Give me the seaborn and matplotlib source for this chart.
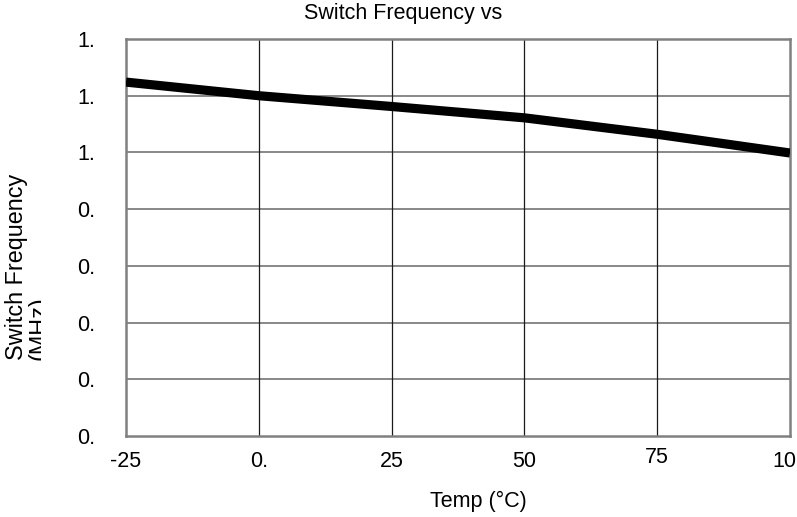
import matplotlib
matplotlib.use("Agg")
import matplotlib.pyplot as plt
from matplotlib.transforms import ScaledTranslation
from matplotlib.patches import Rectangle
import seaborn as sns
import pandas as pd

# Data
temps = [-25, 0, 25, 50, 75, 100]
freq = [1.124, 1.100, 1.081, 1.061, 1.032, 0.999]

x_ticks = [-25, 0, 25, 50, 75, 100]
x_tick_labels = ["-25", "0.", "25", "50", "75", "10"]
y_ticks = [0.5, 0.6, 0.7, 0.8, 0.9, 1.0, 1.1, 1.2]
y_tick_labels = ["0.", "0.", "0.", "0.", "0.", "1.", "1.", "1."]

title_text = "Switch Frequency vs"
xlabel_text = "Temp (°C)"
ylabel_text = "Switch Frequency\n(MHz)"

sns.set_theme(style="white")
plt.rcParams["font.family"] = ["Liberation Sans", "DejaVu Sans"]

FS = 15.5
W, H = 797, 517
fig = plt.figure(figsize=(W / 100, H / 100), dpi=100)
ax = fig.add_axes([126 / W, 1 - 436 / H, (790 - 126) / W, (436 - 39) / H])

df = pd.DataFrame({"temp": temps, "freq": freq})
sns.lineplot(data=df, x="temp", y="freq", ax=ax, color="black",
             linewidth=6.6, zorder=5, solid_capstyle="butt")

ax.set_xlim(-25, 100)
ax.set_ylim(0.5, 1.2)
ax.set_xticks(x_ticks)
ax.set_xticklabels(x_tick_labels, fontsize=FS, color="black")
ax.set_yticks(y_ticks)
ax.set_yticklabels(y_tick_labels, fontsize=FS, color="black")
ax.tick_params(axis="x", length=0, pad=10.5)
ax.tick_params(axis="y", length=0, pad=22)
ax.set_xlabel("")
ax.set_ylabel("")

# small per-label offsets seen in the reference
xl = ax.get_xticklabels()
xl[-1].set_transform(xl[-1].get_transform() + ScaledTranslation(-4 / 72, 0, fig.dpi_scale_trans))
xl[-2].set_transform(xl[-2].get_transform() + ScaledTranslation(0, 2.5 / 72, fig.dpi_scale_trans))

for yv in y_ticks[1:-1]:
    ax.axhline(yv, color="#7f7f7f", linewidth=1.3, zorder=1)
for xv in x_ticks[1:-1]:
    ax.axvline(xv, color="#1a1a1a", linewidth=0.9, zorder=1)

for s in ax.spines.values():
    s.set_visible(True)
    s.set_color("#808080")
    s.set_linewidth(1.8)

fig.text(403 / W, 1 - 13 / H, title_text, ha="center", va="center",
         fontsize=FS, color="black")
fig.text(478 / W, 1 - 501 / H, xlabel_text, ha="center", va="center",
         fontsize=FS, color="black")
fig.text(5 / W, 1 - 360 / H, ylabel_text, rotation=90, ha="left",
         va="bottom", multialignment="left", fontsize=16.8,
         color="black", linespacing=1.0, zorder=3)
# the second line of the y label is cut off in the reference
fig.patches.append(Rectangle((41 / W, 1 - 380 / H), 24 / W, 150 / H,
                             transform=fig.transFigure, facecolor="white",
                             edgecolor="none", zorder=10))

fig.savefig("out.png", dpi=100)
